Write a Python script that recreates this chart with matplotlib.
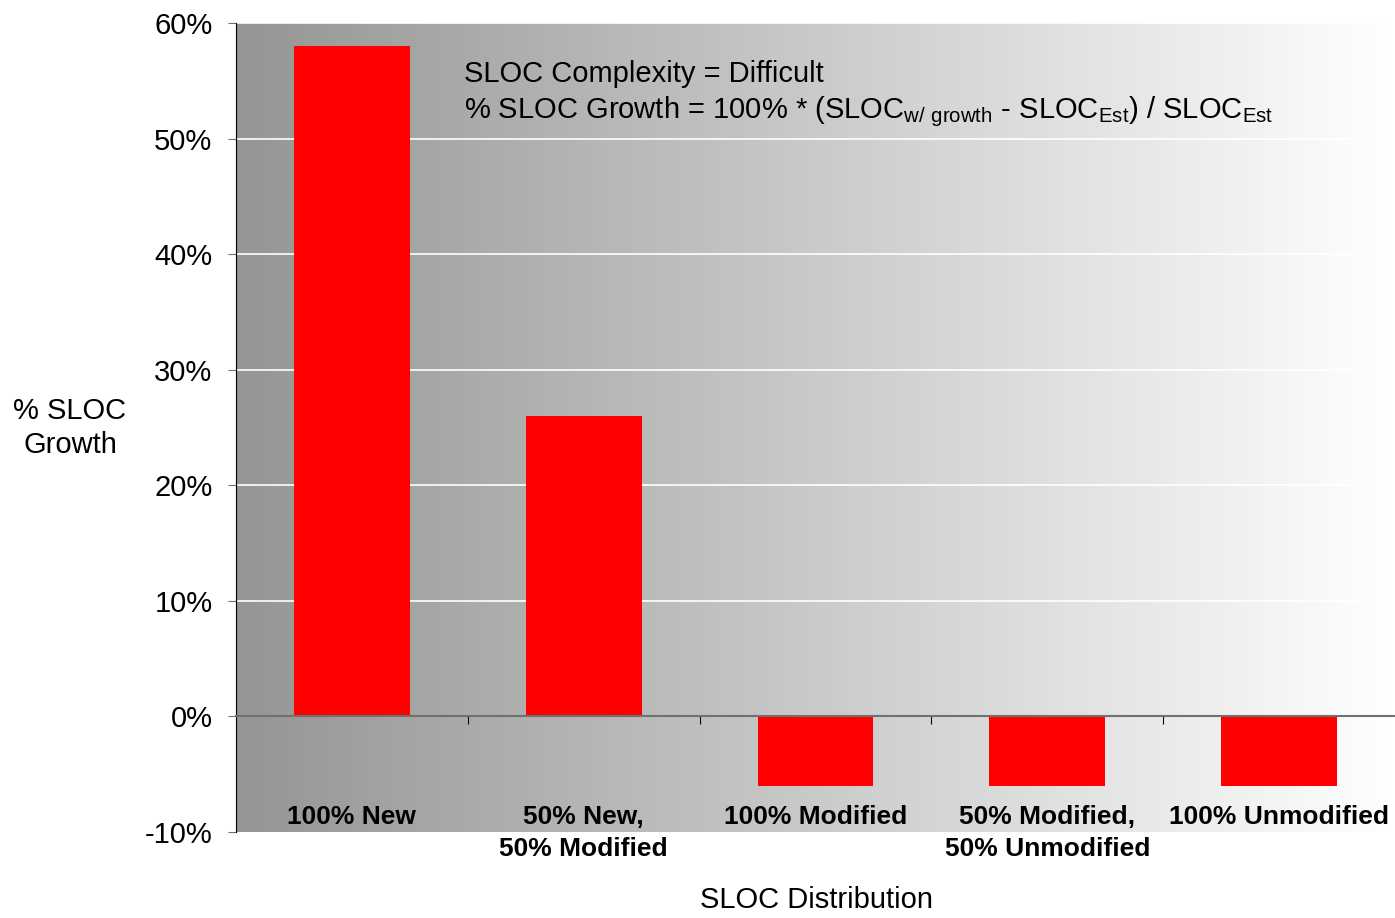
import numpy as np
import matplotlib
matplotlib.use('Agg')
import matplotlib.pyplot as plt
from matplotlib.colors import LinearSegmentedColormap

plt.rcParams['font.family'] = ['Liberation Sans', 'DejaVu Sans']
plt.rcParams['mathtext.fontset'] = 'custom'
plt.rcParams['mathtext.rm'] = 'Liberation Sans'

# data
categories = ['100% New', '50% New,\n50% Modified', '100% Modified',
              '50% Modified,\n50% Unmodified', '100% Unmodified']
growth = [58, 26, -6, -6, -6]  # % SLOC growth
y_ticks = [-10, 0, 10, 20, 30, 40, 50, 60]

fig = plt.figure(figsize=(13.95, 9.18), dpi=100)
ax = fig.add_axes([236 / 1395, 1 - 832 / 918, 1159 / 1395, (832 - 23) / 918])

# gradient background, grey on the left to white on the right
cmap = LinearSegmentedColormap.from_list('bg', ['#959595', '#ffffff'])
grad = np.linspace(0, 1, 256).reshape(1, -1)
ax.imshow(grad, cmap=cmap, extent=[0, 1, 0, 1], transform=ax.transAxes,
          aspect='auto', zorder=0)

x = np.arange(len(categories))
ax.bar(x, growth, width=0.5, color='#ff0000', zorder=3)

ax.set_xlim(-0.5, len(categories) - 0.5)
ax.set_ylim(-10, 60)
ax.set_yticks(y_ticks)
ax.set_yticklabels([f'{v}%' for v in y_ticks], fontsize=21)
for v in y_ticks[2:]:
    ax.axhline(v, color='white', linewidth=1.2, zorder=1)

# x axis line at zero, with ticks between categories
ax.spines['bottom'].set_position(('data', 0))
ax.spines['bottom'].set_color('#707070')
ax.spines['bottom'].set_linewidth(1.5)
ax.spines['bottom'].set_zorder(4)
ax.spines['top'].set_visible(False)
ax.spines['right'].set_visible(False)
ax.spines['left'].set_color('black')
ax.set_xticks(x[:-1] + 0.5)
ax.set_xticklabels([])
ax.tick_params(axis='x', direction='out', length=6, color='black')
ax.tick_params(axis='y', direction='out', length=6, color='#707070', pad=11)

for xi, lab in zip(x, categories):
    ax.text(xi, -7.65, lab, ha='center', va='top', fontsize=19,
            fontweight='bold', linespacing=1.42, clip_on=False, zorder=5)

ax.text(0.197, 0.927, 'SLOC Complexity = Difficult', transform=ax.transAxes,
        fontsize=21, va='baseline', ha='left', zorder=5)
ax.text(0.197, 0.8826,
        r'% SLOC Growth = 100% * (SLOC$_{\mathregular{w/\ growth}}$ - SLOC$_{\mathregular{Est}}$) / SLOC$_{\mathregular{Est}}$',
        transform=ax.transAxes, fontsize=21, va='baseline', ha='left', zorder=5)

fig.text(70 / 1395, 1 - 428 / 918, '% SLOC\nGrowth', ha='center', va='center',
         fontsize=21, linespacing=1.3)
fig.text(816 / 1395, 1 - 900 / 918, 'SLOC Distribution', ha='center',
         va='center', fontsize=21)

fig.savefig('out.png', dpi=100)
